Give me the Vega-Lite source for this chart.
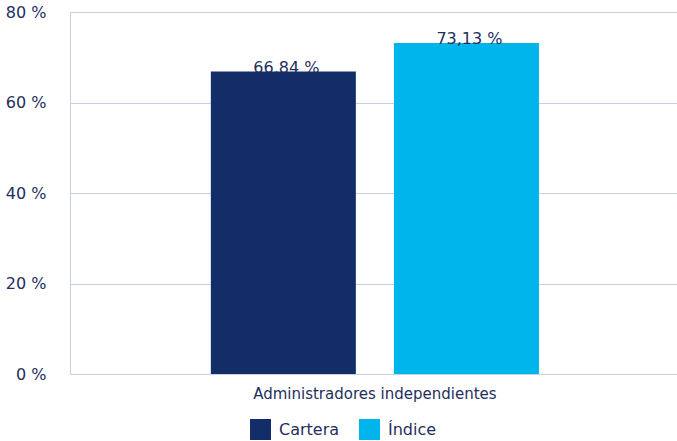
{
  "$schema": "https://vega.github.io/schema/vega-lite/v6.json",
  "width": 607,
  "height": 362,
  "autosize": {"type": "none"},
  "padding": {"left": 70, "top": 12, "right": 0, "bottom": 67},
  "background": "white",
  "config": {
    "view": {"stroke": null},
    "font": "DejaVu Sans",
    "axis": {"labelFont": "DejaVu Sans", "labelFontSize": 16, "labelColor": "#1f2f5c"},
    "legend": {"labelFont": "DejaVu Sans", "labelFontSize": 16, "labelColor": "#1f2f5c"}
  },
  "data": {
    "values": [
      {"categoria": "Administradores independientes", "serie": "Cartera", "orden": 1, "valor": 66.84, "etiqueta": "66,84 %"},
      {"categoria": "Administradores independientes", "serie": "Índice", "orden": 2, "valor": 73.13, "etiqueta": "73,13 %"}
    ]
  },
  "encoding": {
    "x": {
      "field": "categoria",
      "type": "nominal",
      "scale": {"paddingInner": 0, "paddingOuter": 0.425, "align": 0.505},
      "axis": {"title": null, "labelAngle": 0, "ticks": false, "domain": false, "labelPadding": 12, "labelLimit": 0, "labelFontSize": 15}
    },
    "xOffset": {
      "field": "serie",
      "type": "nominal",
      "sort": ["Cartera", "Índice"],
      "scale": {"paddingInner": 0.208, "paddingOuter": 0}
    },
    "y": {
      "field": "valor",
      "type": "quantitative",
      "scale": {"domain": [0, 80], "nice": false},
      "axis": {
        "title": null,
        "values": [0, 20, 40, 60, 80],
        "labelExpr": "datum.value + ' %'",
        "ticks": false,
        "labelPadding": 24,
        "gridColor": "#c4d0e4",
        "gridWidth": 1,
        "domainColor": "#c4d0e4",
        "domainWidth": 1
      }
    }
  },
  "layer": [
    {
      "mark": {"type": "bar"},
      "encoding": {
        "color": {
          "field": "serie",
          "type": "nominal",
          "sort": ["Cartera", "Índice"],
          "scale": {"domain": ["Cartera", "Índice"], "range": ["#132d69", "#00b4ec"]},
          "legend": {
            "title": null,
            "orient": "none",
            "legendX": 180,
            "legendY": 407,
            "direction": "horizontal",
            "symbolType": "square",
            "symbolSize": 440,
            "symbolStrokeWidth": 0,
            "symbolOpacity": 1,
            "labelOffset": 8,
            "columnPadding": 19
          }
        }
      }
    },
    {
      "mark": {"type": "text", "baseline": "alphabetic", "dy": 1, "dx": 3, "fontSize": 16, "color": "#1f2f5c", "font": "DejaVu Sans"},
      "encoding": {
        "text": {"field": "etiqueta"}
      }
    }
  ]
}
